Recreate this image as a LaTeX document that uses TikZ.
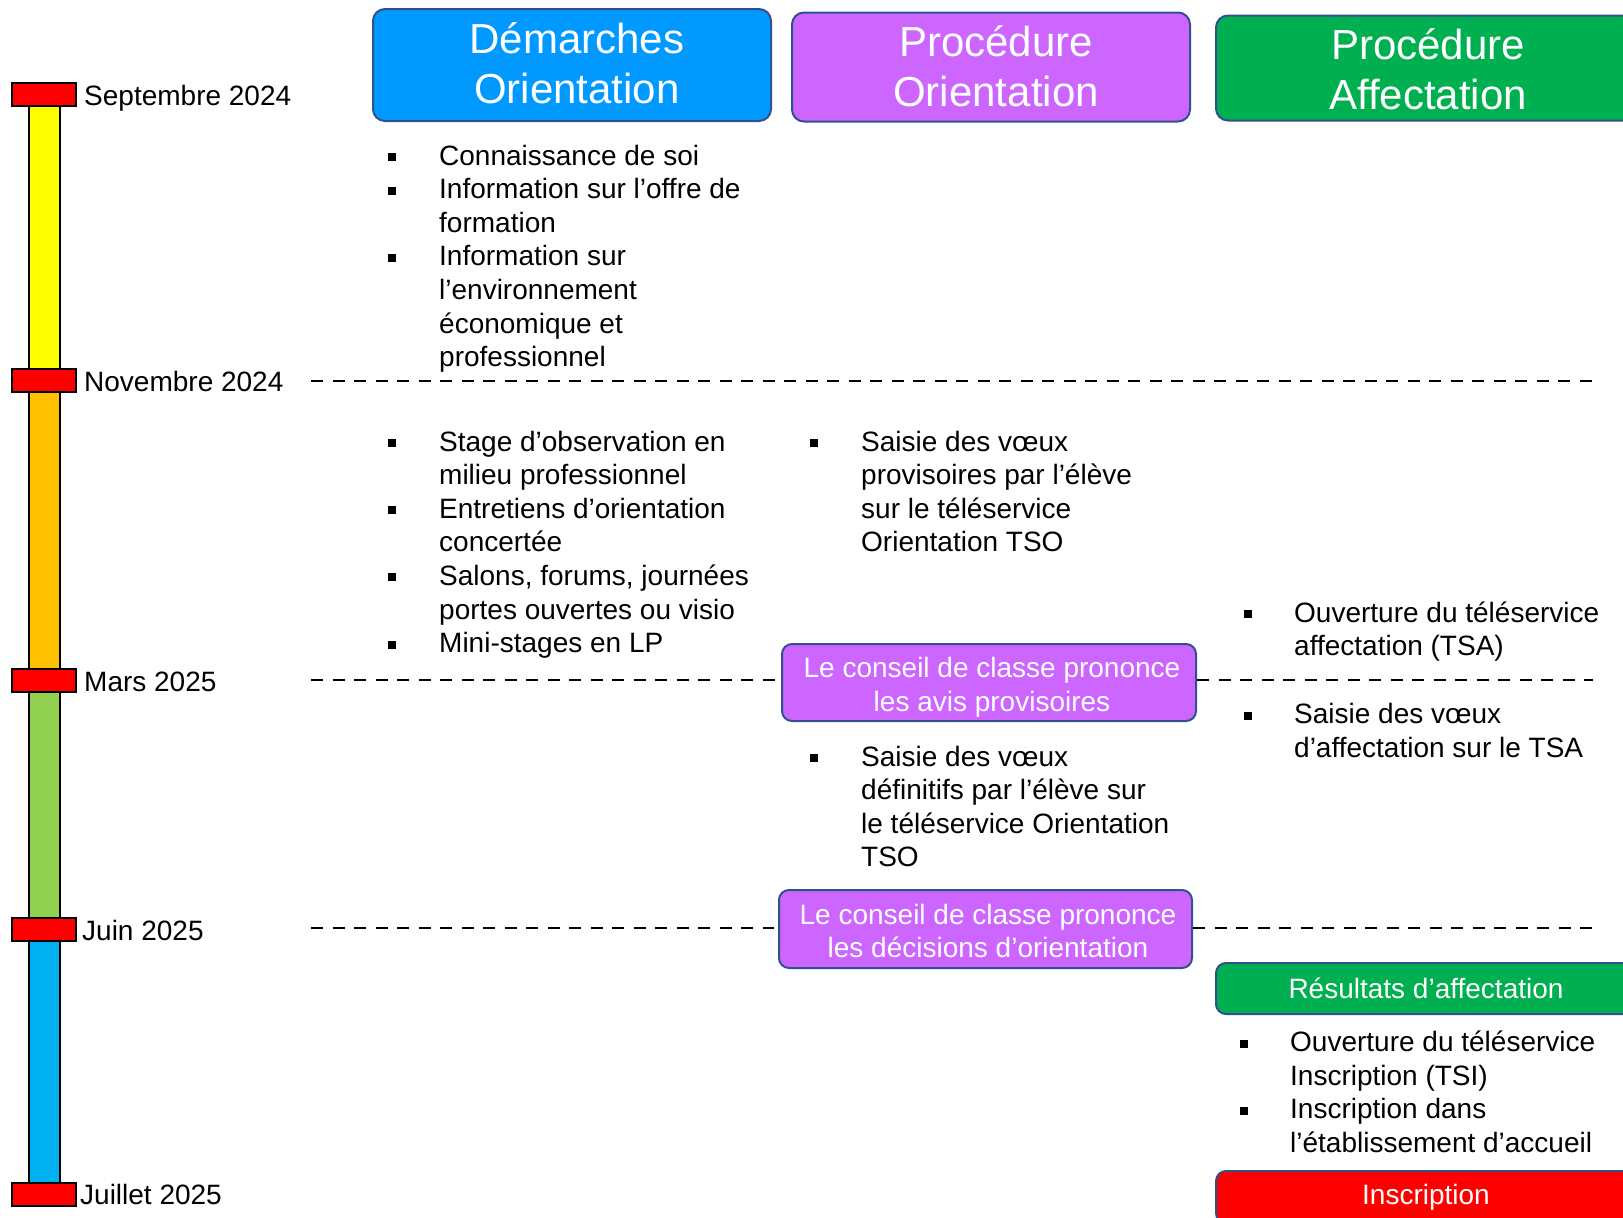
\documentclass[tikz,border=0pt]{standalone}
\usepackage{fontspec}
\setmainfont{Liberation Sans}
\definecolor{hblue}{RGB}{0,153,255}
\definecolor{hpurple}{RGB}{204,102,255}
\definecolor{hgreen}{RGB}{0,176,80}
\definecolor{bord}{RGB}{47,82,143}
\definecolor{byellow}{RGB}{255,255,0}
\definecolor{borange}{RGB}{255,192,0}
\definecolor{bgreen}{RGB}{146,208,80}
\definecolor{bblue}{RGB}{0,176,240}
\definecolor{cred}{RGB}{255,0,0}
\newcommand{\blt}{\raisebox{4pt}{\rule{8pt}{8pt}}}
\newcommand{\bodyf}{\fontsize{28}{33.6}\selectfont}
\newcommand{\headf}{\fontsize{42}{50}\selectfont}
\newcommand{\datef}{\fontsize{28}{33}\selectfont}
\begin{document}
\begin{tikzpicture}[x=1pt,y=-1pt,
  capbox/.style={draw=black, line width=2pt, fill=cred, minimum width=64pt, minimum height=23pt, inner sep=0pt},
  barseg/.style={draw=black, line width=2pt},
  datelbl/.style={anchor=base west, inner sep=0pt, font=\datef},
  head/.style={draw=bord, line width=2pt, rounded corners=12pt, inner sep=0pt},
  headtxt/.style={text=white, font=\headf, align=center, inner sep=0pt},
  pbox/.style={draw=bord, line width=2pt, rounded corners=10pt, fill=hpurple, inner sep=0pt},
  btxt/.style={text=white, font=\bodyf, align=center, inner sep=0pt},
  gbox/.style={draw=bord, line width=2pt, rounded corners=10pt, inner sep=0pt},
  lst/.style={anchor=base west, inner sep=0pt, font=\bodyf},
  sep/.style={line width=2.5pt, dash pattern=on 12pt off 9.5pt}]
\useasboundingbox (0,0) rectangle (1623,1218);
\clip (0,0) rectangle (1623,1218);
% timeline bars
\draw[barseg, fill=byellow] (29,100) rectangle (60,375);
\draw[barseg, fill=borange] (29,385) rectangle (60,675);
\draw[barseg, fill=bgreen] (29,685) rectangle (60,925);
\draw[barseg, fill=bblue] (29,935) rectangle (60,1188);
% caps
\node[capbox] (cSep) at (44,94.5) {};
\node[capbox] (cNov) at (44,380.5) {};
\node[capbox] (cMar) at (44,680) {};
\node[capbox] (cJun) at (44,929.5) {};
\node[capbox] (cJul) at (44,1194) {};
% date labels
\node[datelbl] (lSep) at (84,105) {Septembre 2024};
\node[datelbl] (lNov) at (84,391) {Novembre 2024};
\node[datelbl] (lMar) at (84,691) {Mars 2025};
\node[datelbl] (lJun) at (82,940) {Juin 2025};
\node[datelbl] (lJul) at (80,1204) {Juillet 2025};
% headers
\node[head, fill=hblue, minimum width=398pt, minimum height=112pt] (h1) at (572,65) {};
\node[headtxt] (h1t) at ([xshift=5pt,yshift=2pt]h1.center) {Démarches\\Orientation};
\node[head, fill=hpurple, minimum width=398pt, minimum height=109pt] (h2) at (991,67) {};
\node[headtxt] (h2t) at ([xshift=5pt,yshift=0.5pt]h2.center) {Procédure\\Orientation};
\node[head, fill=hgreen, minimum width=424pt, minimum height=105pt] (h3) at (1428,68) {};
\node[headtxt] (h3t) at ([yshift=-1.5pt]h3.center) {Procédure\\Affectation};
% lists
\node[lst] (lA) at (388,165) {\begin{tabular}[t]{@{}p{51pt}@{}l@{}}
\blt & Connaissance de soi\\
\blt & Information sur l’offre de\\
 & formation\\
\blt & Information sur\\
 & l’environnement\\
 & économique et\\
 & professionnel
\end{tabular}};
\node[lst] (lB) at (388,451) {\begin{tabular}[t]{@{}p{51pt}@{}l@{}}
\blt & Stage d’observation en\\
 & milieu professionnel\\
\blt & Entretiens d’orientation\\
 & concertée\\
\blt & Salons, forums, journées\\
 & portes ouvertes ou visio\\
\blt & Mini-stages en LP
\end{tabular}};
\node[lst] (lC) at (810,451) {\begin{tabular}[t]{@{}p{51pt}@{}l@{}}
\blt & Saisie des vœux\\
 & provisoires par l’élève\\
 & sur le téléservice\\
 & Orientation TSO
\end{tabular}};
\node[lst] (lD) at (810,766) {\begin{tabular}[t]{@{}p{51pt}@{}l@{}}
\blt & Saisie des vœux\\
 & définitifs par l’élève sur\\
 & le téléservice Orientation\\
 & TSO
\end{tabular}};
\node[lst] (lE) at (1244,622) {\begin{tabular}[t]{@{}p{50pt}@{}l@{}}
\blt & Ouverture du téléservice\\
 & affectation (TSA)
\end{tabular}};
\node[lst] (lF) at (1244,723.5) {\begin{tabular}[t]{@{}p{50pt}@{}l@{}}
\blt & Saisie des vœux\\
 & d’affectation sur le TSA
\end{tabular}};
\node[lst] (lG) at (1240,1051.6) {\begin{tabular}[t]{@{}p{50pt}@{}l@{}}
\blt & Ouverture du téléservice\\
 & Inscription (TSI)\\
\blt & Inscription dans\\
 & l’établissement d’accueil
\end{tabular}};
% boxes
\node[pbox, minimum width=414pt, minimum height=77pt] (avis) at (989,682.5) {};
\node[btxt] (avist) at ([xshift=3pt,yshift=-4.5pt]avis.center) {Le conseil de classe prononce\\les avis provisoires};
\node[pbox, minimum width=413pt, minimum height=78pt] (dec) at (985.5,929) {};
\node[btxt] (dect) at ([xshift=2.5pt,yshift=-2pt]dec.center) {Le conseil de classe prononce\\les décisions d’orientation};
\node[gbox, fill=hgreen, minimum width=424pt, minimum height=51pt] (res) at (1428,988.5) {};
\node[btxt] (rest) at ([xshift=-2pt]res.center) {Résultats d’affectation};
\node[gbox, fill=cred, minimum width=424pt, minimum height=52pt, anchor=north] (ins) at (1428,1170) {};
\node[btxt] (inst) at ([xshift=-2pt]ins.center) {Inscription};
% separators
\coordinate (nL) at (311,381);
\coordinate (nR) at (1593,381);
\coordinate (mL) at (311,680);
\coordinate (mR) at (1593,680);
\coordinate (jL) at (311,928);
\coordinate (jR) at (1593,928);
\draw[sep] (nL) -- (nR);
\draw[sep, shorten >=6pt] (mL) -- (mL -| avis.west);
\draw[sep] (mR -| avis.east) -- (mR);
\draw[sep, shorten >=4pt] (jL) -- (jL -| dec.west);
\draw[sep] (jR -| dec.east) -- (jR);
\end{tikzpicture}
\end{document}
